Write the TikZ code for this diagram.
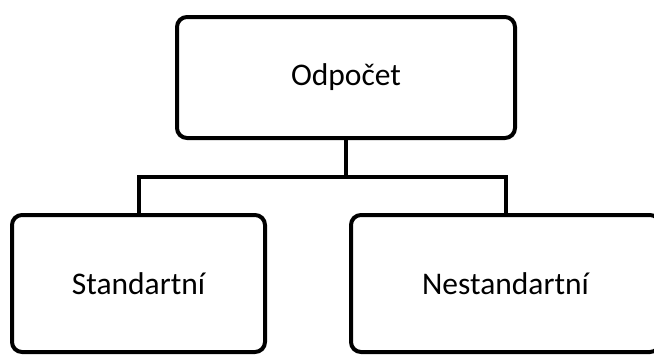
\documentclass[tikz,border=0pt]{standalone}
\usepackage{fontspec}
\setmainfont{Carlito}

\begin{document}
\begin{tikzpicture}[x=1pt,y=-1pt,line width=4pt,
  box/.style={draw,rounded corners=10pt,inner sep=0pt,font=\fontsize{31.5}{36}\selectfont}]
\useasboundingbox (0,0) rectangle (654,356);
\node[box,minimum width=338pt,minimum height=121pt](odp) at (346,77.5){Odpočet};
\node[box,minimum width=253pt,minimum height=137pt](std) at (138.5,283.5){Standartní};
\node[box,minimum width=309pt,minimum height=137pt](nstd) at (505.5,283.5){Nestandartní};
\coordinate (split) at (346,177);
\draw (odp.south) -- (split);
\draw (std.north) |- (split) -| (nstd.north);
\end{tikzpicture}
\end{document}
